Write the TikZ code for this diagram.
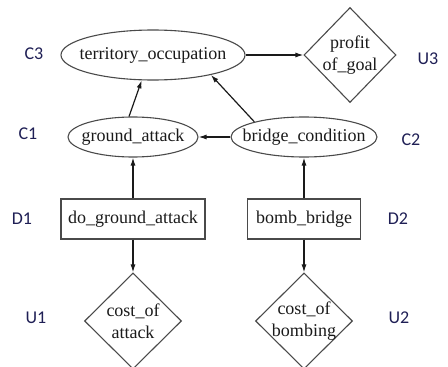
\documentclass[tikz,border=0pt]{standalone}
\usepackage{fontspec}
\setmainfont{Liberation Serif}
\newfontfamily\tagfont{Carlito}
\usetikzlibrary{arrows.meta,shapes.geometric}
\definecolor{idgray}{HTML}{4A4A4A}
\definecolor{idink}{HTML}{1A1A1A}
\definecolor{idnavy}{HTML}{1F1F55}
\tikzset{
    every edge/.style={draw=idink,-{Latex[length=8pt,width=5pt]},line width=1.2pt},
    base/.style={draw=idgray,line width=1.1pt,text=idink,font=\fontsize{18}{22}\selectfont},
    chance/.style={base,ellipse,inner xsep=-15pt,inner ysep=0pt},
    decision/.style={base,rectangle,minimum height=40pt,inner sep=0pt},
    utility/.style={base,diamond,align=center,inner sep=-6pt,minimum width=97pt,minimum height=96pt},
    tag/.style={text=idnavy,font=\tagfont\fontsize{18}{20}\selectfont},
}

\begin{document}
\begin{tikzpicture}[x=1pt,y=-1pt]
    \useasboundingbox (0,0) rectangle (448,367);

    % chance nodes
    \node[chance,minimum width=184pt,minimum height=50pt] (terr) at (153,55) {territory\_occupation};
    \node[chance,minimum width=130pt,minimum height=40pt] (ground) at (133,137) {ground\_attack};
    \node[chance,minimum width=146pt,minimum height=40pt] (bridge) at (304,137) {bridge\_condition};

    % decision nodes
    \node[decision,minimum width=144pt] (doatt) at (133,219) {do\_ground\_attack};
    \node[decision,minimum width=113pt] (bomb) at (304,219) {bomb\_bridge};

    % utility nodes
    \node[utility,minimum width=92pt,minimum height=95pt] (profit) at (350,55) {profit\\of\_goal};
    \node[utility] (costatt) at (133,321) {cost\_of\\attack};
    \node[utility] (costbomb) at (304,321) {cost\_of\\bombing};

    % side tags
    \node[tag] (tc3) at (34,54) {C3};
    \node[tag] (tc1) at (28,134) {C1};
    \node[tag] (td1) at (22,219) {D1};
    \node[tag] (tu1) at (36,318) {U1};
    \node[tag] (tu3) at (428,59) {U3};
    \node[tag] (tc2) at (411,140) {C2};
    \node[tag] (td2) at (398,219) {D2};
    \node[tag] (tu2) at (399,318) {U2};

    \path
    (terr) edge (profit)
    (ground.101) edge (terr.246)
    (bridge.163) edge (terr.341)
    (bridge) edge (ground)
    (doatt) edge (ground)
    (bomb) edge (bridge)
    (doatt) edge (costatt)
    (bomb) edge (costbomb);
\end{tikzpicture}
\end{document}
